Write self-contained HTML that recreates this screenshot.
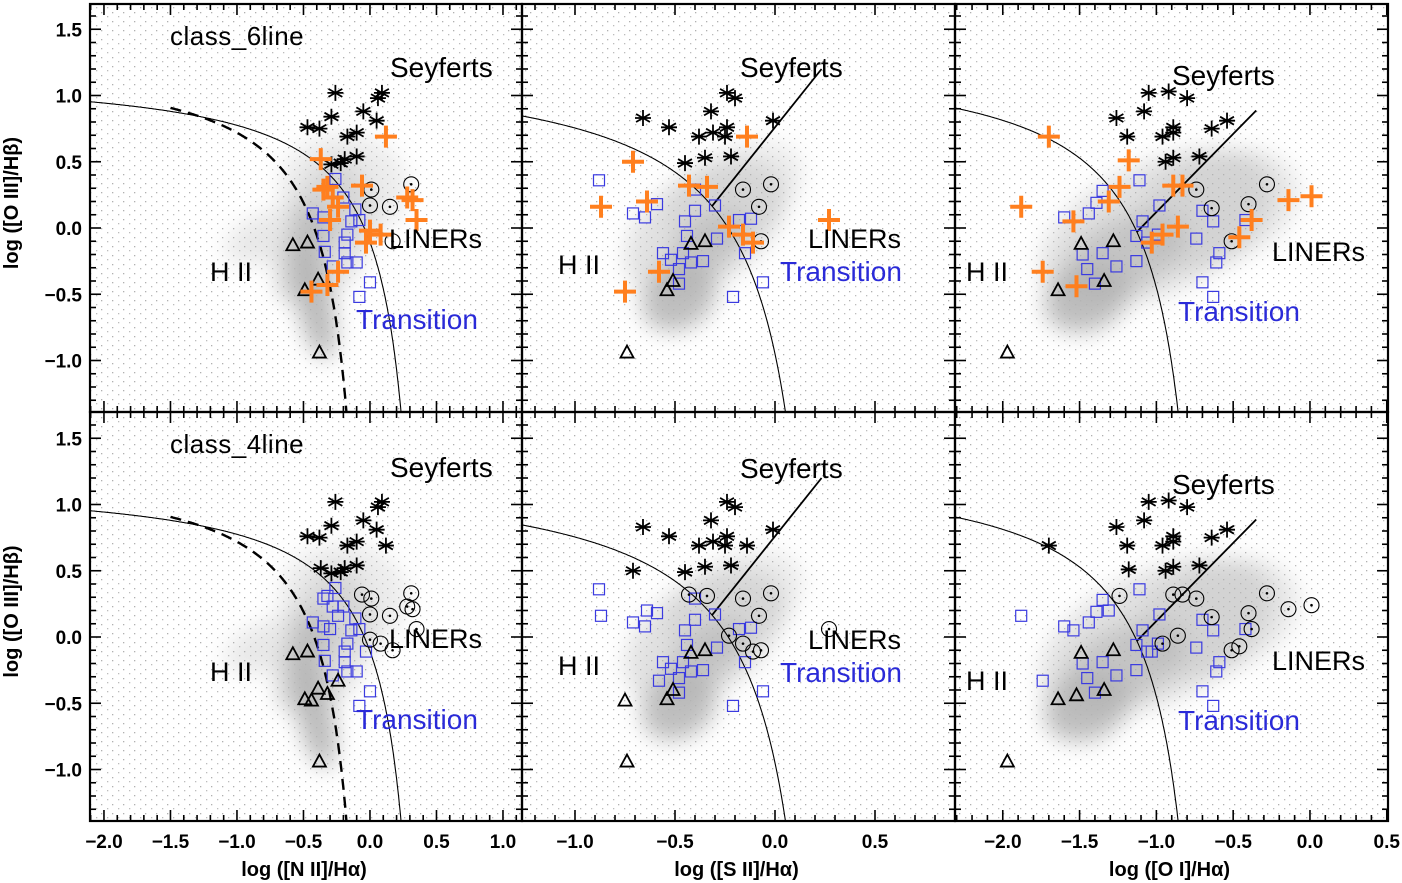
<!DOCTYPE html>
<html><head><meta charset="utf-8"><style>
html,body{margin:0;padding:0;background:#fff;}
svg{display:block;font-family:"Liberation Sans",sans-serif;}
</style></head><body>
<svg id="chart" width="1402" height="883" viewBox="0 0 1402 883" xmlns="http://www.w3.org/2000/svg">
<defs>
<filter id="blur" x="-50%" y="-50%" width="200%" height="200%"><feGaussianBlur stdDeviation="11"/></filter>
<pattern id="sprinkle" width="11" height="9" patternUnits="userSpaceOnUse">
<rect x="2" y="3" width="1.3" height="1.3" fill="#b0b0b0"/><rect x="8" y="7" width="1.3" height="1.3" fill="#bcbcbc"/>
</pattern>
</defs>
</svg>
<script>
// ---- data (log line ratios) ----
const nii_ast=[[-0.26,1.02],[0.06,0.98],[0.09,1.02],[-0.05,0.88],[-0.29,0.84],[0.05,0.81],[-0.47,0.76],[-0.38,0.75],[-0.17,0.69],[-0.10,0.72],[-0.10,0.54],[-0.19,0.52],[-0.22,0.49],[-0.29,0.48]];
const nii_cross=[[0.12,0.69],[-0.37,0.52],[-0.32,0.31],[-0.35,0.29],[-0.28,0.23],[-0.24,0.16],[-0.30,0.06],[-0.06,0.32],[0.28,0.23],[0.32,0.21],[0.35,0.06],[0.0,-0.02],[0.08,-0.05],[-0.03,-0.11],[-0.24,-0.33],[-0.32,-0.43],[-0.44,-0.48]];
const nii_crossB="AASSSSSCCCCCCSTTT";
const nii_circ=[[0.01,0.29],[0.0,0.17],[0.15,0.16],[0.31,0.33],[0.17,-0.10]];
const nii_sq=[[-0.26,0.37],[-0.20,0.23],[-0.43,0.11],[-0.35,0.08],[-0.11,0.14],[-0.08,0.06],[-0.14,0.05],[-0.35,-0.06],[-0.17,-0.05],[-0.34,-0.18],[-0.19,-0.11],[-0.19,-0.19],[-0.17,-0.26],[-0.10,-0.26],[-0.28,-0.29],[0.0,-0.41],[-0.08,-0.52]];
const nii_tri=[[-0.58,-0.13],[-0.47,-0.11],[-0.39,-0.39],[-0.49,-0.47],[-0.38,-0.94]];

const sii_ast=[[-0.24,1.02],[-0.20,0.98],[-0.66,0.83],[-0.53,0.76],[-0.32,0.88],[-0.01,0.81],[-0.24,0.76],[-0.38,0.69],[-0.31,0.72],[-0.25,0.69],[-0.45,0.49],[-0.35,0.53],[-0.22,0.54]];
const sii_cross=[[-0.14,0.69],[-0.71,0.50],[-0.87,0.16],[-0.64,0.20],[-0.43,0.32],[-0.34,0.31],[-0.23,0.01],[-0.16,-0.05],[-0.11,-0.11],[-0.58,-0.33],[-0.75,-0.48],[0.27,0.06]];
const sii_crossB="AASSCCCCCSTC";
const sii_circ=[[-0.16,0.29],[-0.02,0.33],[-0.08,0.16],[-0.07,-0.10]];
const sii_sq=[[-0.88,0.36],[-0.71,0.11],[-0.65,0.08],[-0.59,0.18],[-0.40,0.29],[-0.40,0.13],[-0.45,0.05],[-0.30,0.17],[-0.44,-0.06],[-0.18,0.06],[-0.12,0.07],[-0.29,-0.08],[-0.56,-0.19],[-0.52,-0.24],[-0.46,-0.19],[-0.42,-0.26],[-0.36,-0.25],[-0.48,-0.31],[-0.48,-0.42],[-0.15,-0.19],[-0.06,-0.41],[-0.21,-0.52]];
const sii_tri=[[-0.42,-0.12],[-0.35,-0.10],[-0.51,-0.40],[-0.54,-0.47],[-0.74,-0.94]];

const oi_ast=[[-1.05,1.02],[-0.92,1.03],[-0.80,0.98],[-1.26,0.83],[-1.08,0.88],[-0.89,0.76],[-0.54,0.81],[-0.64,0.75],[-1.19,0.69],[-0.96,0.69],[-0.89,0.72],[-0.94,0.50],[-0.89,0.53],[-0.72,0.54]];
const oi_cross=[[-1.70,0.69],[-1.18,0.51],[-1.88,0.16],[-1.24,0.31],[-1.31,0.20],[-1.54,0.05],[-0.89,0.32],[-0.83,0.32],[-0.86,0.01],[-0.96,-0.05],[-1.03,-0.11],[-0.38,0.06],[-0.46,-0.07],[-0.14,0.21],[0.01,0.24],[-1.74,-0.33],[-1.52,-0.44]];
const oi_crossB="AASCSSCCCCSCCCCST";
const oi_circ=[[-0.74,0.29],[-0.64,0.15],[-0.40,0.18],[-0.28,0.33],[-0.51,-0.10]];
const oi_sq=[[-1.11,0.36],[-1.35,0.28],[-1.39,0.19],[-1.44,0.11],[-1.60,0.08],[-0.98,0.17],[-1.09,0.05],[-0.70,0.13],[-0.63,0.05],[-0.42,0.06],[-1.13,-0.06],[-0.99,-0.05],[-1.06,-0.11],[-0.74,-0.08],[-1.48,-0.20],[-1.35,-0.19],[-1.13,-0.25],[-1.26,-0.29],[-1.45,-0.31],[-1.40,-0.42],[-0.59,-0.19],[-0.61,-0.26],[-0.70,-0.41],[-0.63,-0.52]];
const oi_tri=[[-1.49,-0.12],[-1.28,-0.10],[-1.34,-0.40],[-1.64,-0.47],[-1.97,-0.94]];

const yTicks=[-1.0,-0.5,0.0,0.5,1.0,1.5];
const yTickLabels=["−1.0","−0.5","0.0","0.5","1.0","1.5"];
const niiTicks=[-2.0,-1.5,-1.0,-0.5,0.0,0.5,1.0];
const niiTickLabels=["−2.0","−1.5","−1.0","−0.5","0.0","0.5","1.0"];
const siiTicks=[-1.0,-0.5,0.0,0.5];
const siiTickLabels=["−1.0","−0.5","0.0","0.5"];
const oiTicks=[-2.0,-1.5,-1.0,-0.5,0.0,0.5];
const oiTickLabels=["−2.0","−1.5","−1.0","−0.5","0.0","0.5"];

// ---- rendering ----
const NS="http://www.w3.org/2000/svg";
const svg=document.getElementById('chart');
function mk(tag,attrs,parent){const e=document.createElementNS(NS,tag);for(const k in attrs)e.setAttribute(k,attrs[k]);(parent||svg).appendChild(e);return e;}

const cols=[
 {key:'nii',x0:90,x1:522,xmin:-2.105,xmax:1.143,ticks:niiTicks,labels:niiTickLabels,title:'log ([N II]/Hα)',
  kew:x=>0.61/(x-0.47)+1.19,kewMax:0.46,kauf:x=>0.61/(x-0.05)+1.3,
  ast:nii_ast,cross:nii_cross,crossB:nii_crossB,circ:nii_circ,sq:nii_sq,tri:nii_tri,
  clouds:[[-0.42,-0.55,18,60,-12,0.9],[-0.5,-0.2,22,50,20,0.6],[-0.3,0.0,40,70,10,0.4],[-0.7,-0.05,55,25,-20,0.3],[-0.2,0.3,65,55,0,0.25]],
  txt:{sey:[390,77],lin:[389,248],hii:[210,281],tra:[356,329]}},
 {key:'sii',x0:522,x1:955,xmin:-1.265,xmax:0.9,ticks:siiTicks,labels:siiTickLabels,title:'log ([S II]/Hα)',
  kew:x=>0.72/(x-0.32)+1.30,kewMax:0.31,sey:[1.89,0.76,1.2],
  ast:sii_ast,cross:sii_cross,crossB:sii_crossB,circ:sii_circ,sq:sii_sq,tri:sii_tri,
  clouds:[[-0.48,-0.52,40,32,-35,0.85],[-0.35,-0.15,50,26,-40,0.6],[-0.35,0.0,90,55,-35,0.4],[-0.2,0.25,75,45,-30,0.25]],
  txt:{sey:[740,77],lin:[808,248],hii:[558,274],tra:[780,281]}},
 {key:'oi',x0:955,x1:1388,xmin:-2.311,xmax:0.508,ticks:oiTicks,labels:oiTickLabels,title:'log ([O I]/Hα)',
  kew:x=>0.73/(x+0.59)+1.33,kewMax:-0.6,sey:[1.18,1.30,0.887],
  ast:oi_ast,cross:oi_cross,crossB:oi_crossB,circ:oi_circ,sq:oi_sq,tri:oi_tri,
  clouds:[[-1.45,-0.52,45,34,-25,0.85],[-1.2,-0.2,65,36,-25,0.6],[-1.0,0.0,125,65,-25,0.4],[-0.6,0.15,85,55,-20,0.3]],
  txt:{sey:[1172,85],lin:[1272,261],hii:[966,281],tra:[1178,321]}}
];
const rows=[{y0:4,y1:412,zero:228,top:true,tag:'class_6line'},{y0:412,y1:821,zero:637,top:false,tag:'class_4line'}];
const ppu=132.5;

rows.forEach((R,ri)=>{
 cols.forEach((C,ci)=>{
  const pid=C.key+(R.top?'-top':'-bottom');
  const g=mk('g',{});
  
  
  const X=v=>C.x0+(v-C.xmin)/(C.xmax-C.xmin)*(C.x1-C.x0);
  const Y=v=>R.zero-v*ppu;
  const clipId='clip-'+pid;
  const cp=mk('clipPath',{id:clipId},g);mk('rect',{x:C.x0,y:R.y0,width:C.x1-C.x0,height:R.y1-R.y0},cp);
  const inner=mk('g',{'clip-path':'url(#'+clipId+')'},g);
  const sp=mk('rect',{x:C.x0,y:R.y0,width:C.x1-C.x0,height:R.y1-R.y0,fill:'url(#sprinkle)'},inner);
  
  
  const cg=mk('g',{filter:'url(#blur)'},inner);
  C.clouds.forEach(c=>{const cx=X(c[0]),cy=Y(c[1]);const e=mk('ellipse',{cx:cx,cy:cy,rx:c[2],ry:c[3],transform:`rotate(${c[4]} ${cx} ${cy})`,fill:'#b4b4b4','fill-opacity':c[5]},cg);
   
   });
  let d='';for(let x=C.xmin;x<C.kewMax;x+=0.005){const y=C.kew(x);if(y<-1.6)break;d+=(d?'L':'M')+X(x).toFixed(1)+' '+Y(y).toFixed(1);}
  const kl=mk('path',{d:d,fill:'none',stroke:'#000','stroke-width':1.1},inner);
  
  
  if(C.kauf){let d2='';for(let x=-1.5;x<0.04;x+=0.005){const y=C.kauf(x);if(y<-1.6)break;d2+=(d2?'L':'M')+X(x).toFixed(1)+' '+Y(y).toFixed(1);}
   const kf=mk('path',{d:d2,fill:'none',stroke:'#000','stroke-width':2.4,'stroke-dasharray':'11 7'},inner);
   
   }
  if(C.sey){const [m,b,ye]=C.sey;const line=x=>m*x+b;
   let lo=C.xmin+0.05,hi=C.kewMax-0.02;for(let i=0;i<60;i++){const md=(lo+hi)/2;const s1=C.kew(lo)-line(lo),s2=C.kew(md)-line(md);if(s1*s2<=0)hi=md;else lo=md;}
   const xs=(lo+hi)/2,xe=(ye-b)/m;
   const sl=mk('line',{x1:X(xs),y1:Y(line(xs)),x2:X(xe),y2:Y(ye),stroke:'#000','stroke-width':1.8},inner);
   
   }
  let sq=C.sq.slice(),circ=C.circ.slice(),ast=C.ast.slice(),tri=C.tri.slice(),crosses=[];
  if(R.top){crosses=C.cross;}else{C.cross.forEach((p,i)=>{const k=C.crossB[i];if(k==='A')ast.push(p);else if(k==='S')sq.push(p);else if(k==='C')circ.push(p);else tri.push(p);});}
  sq.forEach(p=>{const e=mk('rect',{x:X(p[0])-5.5,y:Y(p[1])-5.5,width:11,height:11,fill:'none',stroke:'#3a3ae0','stroke-width':1.2},inner);
   
   });
  tri.forEach(p=>{const x=X(p[0]),y=Y(p[1]);const e=mk('path',{d:`M${x} ${y-7}L${x+6.5} ${y+5}L${x-6.5} ${y+5}Z`,fill:'none',stroke:'#000','stroke-width':1.8},inner);
   
   });
  circ.forEach(p=>{const x=X(p[0]),y=Y(p[1]);const e=mk('g',{},inner);
   
   
   mk('circle',{cx:x,cy:y,r:7.5,fill:'none',stroke:'#000','stroke-width':1.1},e);mk('circle',{cx:x,cy:y,r:1.3,fill:'#000'},e);});
  ast.forEach(p=>{const x=X(p[0]),y=Y(p[1]);const r=8;let dd='';for(let a=0;a<3;a++){const t=Math.PI/2+a*Math.PI/3;dd+=`M${x-r*Math.cos(t)} ${y-r*Math.sin(t)}L${x+r*Math.cos(t)} ${y+r*Math.sin(t)}`;}
   dd+=`M${x-r} ${y}L${x+r} ${y}`;
   const e=mk('path',{d:dd,stroke:'#000','stroke-width':1.8,fill:'none'},inner);
   
   });
  crosses.forEach(p=>{const x=X(p[0]),y=Y(p[1]);const e=mk('path',{d:`M${x-11} ${y}L${x+11} ${y}M${x} ${y-11}L${x} ${y+11}`,stroke:'#ff7f1e','stroke-width':4,fill:'none'},inner);
   
   });
  const fr=mk('rect',{x:C.x0,y:R.y0,width:C.x1-C.x0,height:R.y1-R.y0,fill:'none',stroke:'#000','stroke-width':2.2},g);
  
  
  const tg=mk('g',{stroke:'#000','stroke-width':1.6},g);
  for(let v=-1.3;v<=1.65;v+=0.1){const vv=Math.round(v*10)/10;const major=Math.abs(vv*2-Math.round(vv*2))<1e-6;const L=major?11:6;const y=Y(vv);
   mk('line',{x1:C.x0,y1:y,x2:C.x0+L,y2:y},tg);mk('line',{x1:C.x1,y1:y,x2:C.x1-L,y2:y},tg);}
  for(let v=Math.ceil(C.xmin*10)/10;v<=C.xmax;v+=0.1){const vv=Math.round(v*10)/10;const major=Math.abs(vv*2-Math.round(vv*2))<1e-6;const L=major?11:6;const x=X(vv);
   mk('line',{x1:x,y1:R.y1,x2:x,y2:R.y1-L},tg);mk('line',{x1:x,y1:R.y0,x2:x,y2:R.y0+L},tg);}
  if(ci===0){yTicks.forEach((v,i)=>{const t=mk('text',{x:C.x0-8,y:Y(v)+7,'text-anchor':'end','font-size':19,'font-weight':'bold'},g);t.textContent=yTickLabels[i];
   
   });
   const yt=mk('text',{x:0,y:0,transform:`translate(18 ${(R.y0+R.y1)/2-5}) rotate(-90)`,'text-anchor':'middle','font-size':20,'font-weight':'bold'},g);
   yt.textContent='log ([O III]/Hβ)';
   
   
   const ct=mk('text',{x:170,y:R.y0+41,'font-size':26,'letter-spacing':'0.5'},g);ct.textContent=R.tag;
   
   }
  if(!R.top){C.ticks.forEach((v,i)=>{const t=mk('text',{x:X(v),y:R.y1+27,'text-anchor':'middle','font-size':19,'font-weight':'bold'},g);t.textContent=C.labels[i];
   
   });
   const xt=mk('text',{x:(C.x0+C.x1)/2-2,y:R.y1+55,'text-anchor':'middle','font-size':20,'font-weight':'bold'},g);xt.textContent=C.title;
   
   }
  const off=R.top?0:(ci===0?400:(ci===1?401:409));
  const lab=(txt,pos,col,name,fs)=>{const t=mk('text',{x:pos[0],y:pos[1]+off,'font-size':fs,fill:col},g);t.textContent=txt;
   
   };
  lab('Seyferts',C.txt.sey,'#000','seyferts-label',28);
  lab('LINERs',C.txt.lin,'#000','liners-label',27);
  lab('H  II',C.txt.hii,'#000','hii-label',27);
  lab('Transition',C.txt.tra,'#2a2ad8','transition-label',28);
 });
});
</script>
</body></html>
